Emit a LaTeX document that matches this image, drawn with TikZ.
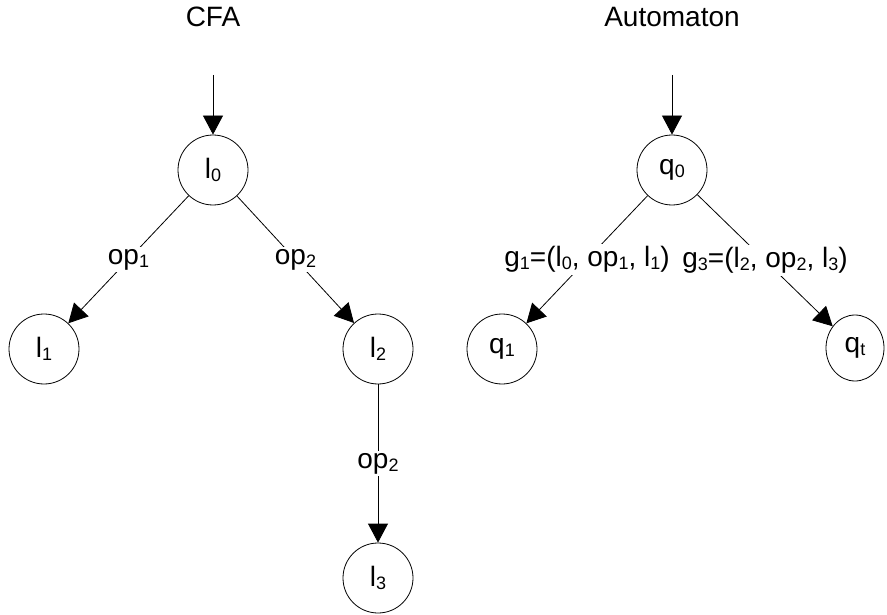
\documentclass[tikz,border=0pt]{standalone}
\usepackage{fontspec}
\setmainfont{Liberation Sans}
\usetikzlibrary{arrows.meta,shapes.geometric}
% lowered, smaller index digits
\newcommand\ix[1]{\raisebox{-3pt}{\fontsize{18}{20}\selectfont #1}}
\begin{document}
\begin{tikzpicture}[x=1pt,y=-1pt,
  every node/.style={font=\fontsize{28}{32}\selectfont},
  state/.style={draw, circle, minimum size=70pt, inner sep=0pt, line width=0.8pt},
  trans/.style={line width=0.8pt, -{Triangle[length=19pt,width=20pt]}},
  plain/.style={line width=0.8pt},
  lbl/.style={fill=white, inner sep=2pt},
  title/.style={anchor=base}]
\useasboundingbox (0,0) rectangle (887,615);

% control flow automaton
\node[title] (cfa) at (213,27) {CFA};
\coordinate (cfain) at (213,75);
\node[state] (l0) at (213,170) {l\ix{0}};
\node[state] (l1) at (44,349) {l\ix{1}};
\node[state] (l2) at (378,349) {l\ix{2}};
\node[state] (l3) at (378,578) {l\ix{3}};
\draw[trans] (cfain) -- (l0);
\draw[trans] (l0) -- node[lbl] {op\ix{1}} (l1);
\draw[trans] (l0) -- node[lbl] {op\ix{2}} (l2);
\draw[trans] (l2) -- node[lbl] {op\ix{2}} (l3);

% derived automaton
\node[title] (aut) at (672,27) {Automaton};
\coordinate (autin) at (672,75);
\node[state] (q0) at (672,170) {q\ix{0}};
\node[state] (q1) at (502,349) {q\ix{1}};
\node[draw, ellipse, minimum width=58pt, minimum height=66pt, inner sep=0pt,
      line width=0.8pt] (qt) at (855,348) {q\ix{t}};
\draw[trans] (autin) -- (q0);
\draw[trans] (q0) -- node[lbl] {g\ix{1}=(l\ix{0}, op\ix{1}, l\ix{1})} (q1);
\draw[trans] (q0) -- node[lbl] {g\ix{3}=(l\ix{2}, op\ix{2}, l\ix{3})} (qt);
\end{tikzpicture}
\end{document}
